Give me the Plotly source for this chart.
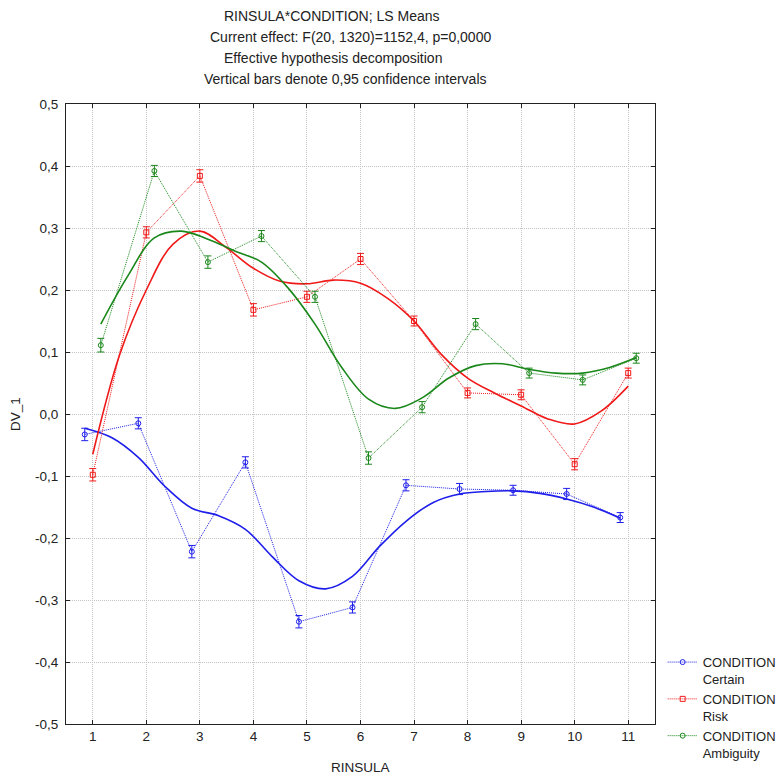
import plotly.graph_objects as go

# LS means per RINSULA level and condition
rinsula = list(range(1, 12))
certain = [-0.033, -0.015, -0.222, -0.078, -0.335, -0.312, -0.115, -0.121, -0.123, -0.129, -0.167]
risk = [-0.098, 0.293, 0.384, 0.168, 0.189, 0.250, 0.150, 0.034, 0.031, -0.081, 0.066]
ambiguity = [0.111, 0.392, 0.245, 0.287, 0.189, -0.071, 0.011, 0.145, 0.066, 0.055, 0.090]

# half-widths of the 0.95 confidence intervals
certain_ci = [0.010, 0.009, 0.010, 0.009, 0.010, 0.009, 0.009, 0.009, 0.008, 0.009, 0.008]
risk_ci = [0.010, 0.009, 0.010, 0.010, 0.009, 0.009, 0.008, 0.008, 0.008, 0.009, 0.008]
ambiguity_ci = [0.011, 0.009, 0.010, 0.009, 0.009, 0.010, 0.009, 0.009, 0.008, 0.008, 0.008]

# smoothed fits, sampled every half step of RINSULA
fit_steps = [1 + 0.5 * i for i in range(21)]
certain_fit = [-0.023, -0.038, -0.070, -0.117, -0.152, -0.164, -0.186, -0.230, -0.269, -0.282, -0.262,
               -0.214, -0.173, -0.143, -0.129, -0.125, -0.124, -0.128, -0.137, -0.150, -0.168]
risk_fit = [-0.065, 0.095, 0.200, 0.274, 0.295, 0.268, 0.235, 0.214, 0.210, 0.216, 0.211,
            0.187, 0.150, 0.097, 0.058, 0.034, 0.013, -0.008, -0.016, 0.005, 0.045]
ambiguity_fit = [0.145, 0.222, 0.284, 0.295, 0.282, 0.263, 0.245, 0.203, 0.145, 0.075, 0.024,
                 0.009, 0.026, 0.058, 0.078, 0.081, 0.072, 0.066, 0.066, 0.075, 0.091]

y_ticks = [-0.5, -0.4, -0.3, -0.2, -0.1, 0.0, 0.1, 0.2, 0.3, 0.4, 0.5]
y_tick_text = ["-0,5", "-0,4", "-0,3", "-0,2", "-0,1", "0,0", "0,1", "0,2", "0,3", "0,4", "0,5"]

title_lines = [
    "RINSULA*CONDITION; LS Means",
    "Current effect: F(20, 1320)=1152,4, p=0,0000",
    "Effective hypothesis decomposition",
    "Vertical bars denote 0,95 confidence intervals",
]

series = [
    ("CONDITION<br>Certain", certain, certain_ci, certain_fit, -0.15, "rgb(30,30,235)", "circle-open"),
    ("CONDITION<br>Risk", risk, risk_ci, risk_fit, 0.0, "rgb(240,25,25)", "square-open"),
    ("CONDITION<br>Ambiguity", ambiguity, ambiguity_ci, ambiguity_fit, 0.15, "rgb(25,135,25)", "circle-open"),
]

FONT = "Liberation Sans, Arial, sans-serif"
FS = 13.5

fig = go.Figure()
for name, vals, ci, fit, shift, color, symbol in series:
    fig.add_trace(go.Scatter(
        x=[s + shift for s in fit_steps], y=fit, mode="lines",
        line=dict(color=color, width=1.6, shape="spline", smoothing=1.0),
        showlegend=False, hoverinfo="skip",
    ))
    fig.add_trace(go.Scatter(
        x=[r + shift for r in rinsula], y=vals, mode="lines+markers", name=name,
        line=dict(color=color, width=1, dash="1px,1px"),
        marker=dict(symbol=symbol, size=5, color=color, line=dict(width=1, color=color)),
        error_y=dict(type="data", array=ci, visible=True, color=color, thickness=1, width=3.5),
    ))

axis_common = dict(
    showline=True, linecolor="#222", linewidth=1, mirror="ticks",
    ticks="inside", ticklen=4, tickcolor="#222",
    showgrid=True, gridcolor="#c4c4c4", gridwidth=1, griddash="1px,1px",
    zeroline=False, tickfont=dict(family=FONT, size=FS, color="#222"),
)

fig.update_layout(
    width=776, height=776,
    margin=dict(l=66, r=121, t=104, b=52, autoexpand=False),
    paper_bgcolor="white", plot_bgcolor="white",
    font=dict(family=FONT, size=FS, color="#222"),
    xaxis=dict(range=[0.5, 11.5], tickvals=rinsula, ticktext=[str(r) for r in rinsula], **axis_common),
    yaxis=dict(range=[-0.5, 0.5], tickvals=y_ticks, ticktext=y_tick_text,
               ticklabelstandoff=4, **axis_common),
    legend=dict(x=1.013, y=0.124, xanchor="left", yanchor="top", valign="top",
                font=dict(family=FONT, size=13, color="#222"), tracegroupgap=0,
                bgcolor="rgba(0,0,0,0)"),
    showlegend=True,
)

# title block above the plot
title_centers = [332, 350, 333, 345]
for i, (line, cx) in enumerate(zip(title_lines, title_centers)):
    fig.add_annotation(text=line, xref="paper", yref="paper",
                       x=(cx - 66) / 589, y=(724 - (16 + 21 * i)) / 620,
                       xanchor="center", yanchor="middle", showarrow=False,
                       font=dict(family=FONT, size=14, color="#222"))

fig.add_annotation(text="DV_1", xref="paper", yref="paper", x=(15 - 66) / 589, y=(724 - 414) / 620,
                   textangle=-90, xanchor="center", yanchor="middle", showarrow=False,
                   font=dict(family=FONT, size=FS, color="#222"))
fig.add_annotation(text="RINSULA", xref="paper", yref="paper", x=(360 - 66) / 589, y=(724 - 767) / 620,
                   xanchor="center", yanchor="middle", showarrow=False,
                   font=dict(family=FONT, size=FS, color="#222"))

fig.write_html("out.html")
